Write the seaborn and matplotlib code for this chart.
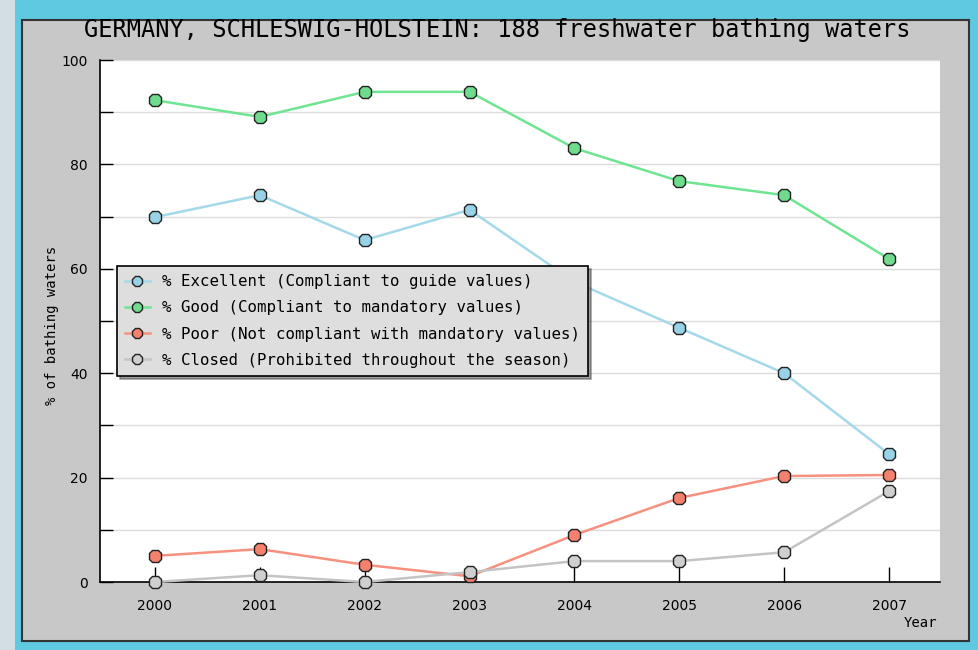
import numpy as np
import pandas as pd
import seaborn as sns
import matplotlib.pyplot as plt
from matplotlib.patches import Rectangle
from matplotlib.ticker import MultipleLocator


years = [2000, 2001, 2002, 2003, 2004, 2005, 2006, 2007]
excellent = [69.9, 74.1, 65.5, 71.3, 57.5, 48.7, 40.0, 24.5]
good = [92.3, 89.1, 93.9, 93.9, 83.1, 76.8, 74.1, 61.9]
poor = [5.0, 6.3, 3.3, 1.1, 9.0, 16.1, 20.3, 20.5]
closed = [0.0, 1.3, 0.0, 1.9, 4.0, 4.0, 5.7, 17.4]

labels = ['% Excellent (Compliant to guide values)',
          '% Good (Compliant to mandatory values)',
          '% Poor (Not compliant with mandatory values)',
          '% Closed (Prohibited throughout the season)']
line_colors = ['#a4d9ea', '#6fe592', '#f7917f', '#c4c4c4']
face_colors = ['#98d2e6', '#6edc8c', '#f4806e', '#cfcfcf']

W, H = 979, 650
fig = plt.figure(figsize=(W / 100, H / 100), dpi=100)
fig.patch.set_facecolor('#5fc9e1')

# background: pale strip on the left and the grey panel
bg = fig.add_axes([0, 0, 1, 1], zorder=-10)
bg.set_xlim(0, W)
bg.set_ylim(H, 0)
bg.axis('off')
bg.add_patch(Rectangle((0, 0), 15, H, facecolor='#d3dee4', edgecolor='none'))
bg.add_patch(Rectangle((22, 20), 947, 621, facecolor='#c8c8c8', edgecolor='#333333', lw=1.5))

ax = fig.add_axes([100 / W, (H - 582) / H, 840 / W, 522 / H])
ax.set_facecolor('white')

series = [excellent, good, poor, closed]
for vals, lab, lc, fc in zip(series, labels, line_colors, face_colors):
    sns.lineplot(x=years, y=vals, ax=ax, color=lc, lw=1.8, marker='8', markersize=10,
                 markerfacecolor=fc, markeredgecolor='#222222', markeredgewidth=1.0,
                 label=lab, clip_on=False, zorder=3)

ax.set_xlim(1999.476, 2007.486)
ax.set_ylim(0, 100)
ax.set_xticks(years)
ax.yaxis.set_major_locator(MultipleLocator(20))
ax.yaxis.set_minor_locator(MultipleLocator(10))
ax.grid(axis='y', which='both', color='#dcdcdc', lw=1)
ax.set_axisbelow(True)
ax.tick_params(axis='both', which='both', direction='in', color='black', width=1)
ax.tick_params(axis='y', which='both', length=9, pad=9, labelsize=10)
ax.tick_params(axis='x', length=11, pad=12, labelsize=10)
for s in ['top', 'right']:
    ax.spines[s].set_visible(False)
for s in ['left', 'bottom']:
    ax.spines[s].set_color('black')
    ax.spines[s].set_linewidth(1.2)
ax.set_xlabel('')
ax.set_ylabel('')

leg = ax.legend(loc='upper left', bbox_to_anchor=(0.02, 0.605), borderaxespad=0,
                prop={'family': 'DejaVu Sans Mono', 'size': 11.3},
                frameon=True, fancybox=False, shadow=True, framealpha=1, handlelength=1.6,
                labelspacing=0.72, borderpad=0.5, handletextpad=0.8, markerscale=0.85)
leg.get_frame().set_facecolor('#dedede')
leg.get_frame().set_edgecolor('black')
leg.get_frame().set_linewidth(1.2)

fig.text(497 / W, 1 - 30 / H, 'GERMANY, SCHLESWIG-HOLSTEIN: 188 freshwater bathing waters',
         ha='center', va='center', family='DejaVu Sans Mono', fontsize=17)
fig.text(52 / W, 1 - 325 / H, '% of bathing waters', rotation=90, ha='center', va='center',
         family='DejaVu Sans Mono', fontsize=10)
fig.text(920 / W, 1 - 623 / H, 'Year', ha='center', va='center', family='DejaVu Sans Mono', fontsize=10)

fig.savefig('out.png', dpi=100, facecolor=fig.get_facecolor())
